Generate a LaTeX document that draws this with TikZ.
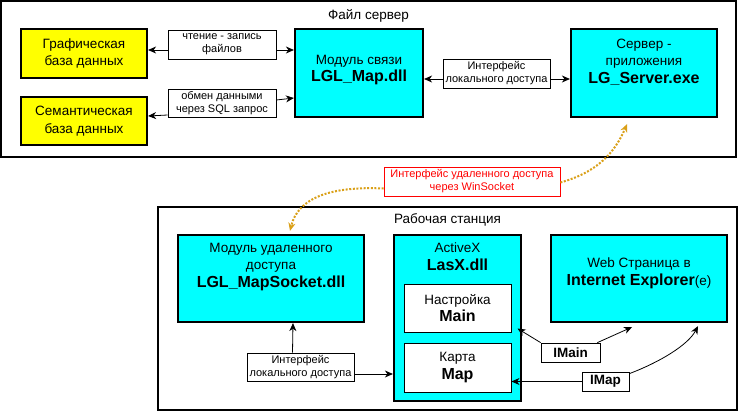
\documentclass[tikz,border=0pt]{standalone}
\usepackage{fontspec}
\setmainfont{Liberation Sans}
\usetikzlibrary{positioning, arrows.meta}
\definecolor{boxcyan}{RGB}{0,255,255}
\definecolor{boxyellow}{RGB}{255,255,0}
\definecolor{linkgold}{RGB}{218,160,24}
\newcommand{\bname}[1]{{\fontsize{16}{18}\selectfont\bfseries #1}}
\tikzset{
  frame/.style={draw, line width=1.3pt},
  title/.style={inner sep=0pt, font=\fontsize{13.5}{16}\selectfont},
  dbbox/.style={draw, line width=2.2pt, fill=boxyellow, align=center, font=\fontsize{13.5}{17.5}\selectfont},
  modbox/.style={draw, line width=2.2pt, fill=boxcyan},
  inbox/.style={draw, line width=1pt, fill=white, align=center, font=\fontsize{13.5}{17.5}\selectfont},
  boxtext/.style={inner sep=0pt, align=center, font=\fontsize{13.5}{17.5}\selectfont},
  lbl/.style={draw, line width=0.8pt, fill=white, align=center, inner sep=1pt, font=\fontsize{11}{13}\selectfont},
  ilbl/.style={lbl, font=\fontsize{13.5}{16}\selectfont\bfseries},
  link/.style={->, line width=0.8pt},
  remote/.style={->, draw=linkgold, line width=2pt, dash pattern=on 2pt off 1.6pt}
}
\begin{document}
\begin{tikzpicture}[x=1pt, y=-1pt, >={Stealth[length=8pt,width=7pt,inset=2.5pt]}]
\useasboundingbox (0,0) rectangle (739,412);

% file server
\node[frame, minimum width=735pt, minimum height=156pt] (srvFrame) at (368.5,79) {};
\node[title, below=9pt of srvFrame.north] (srvTitle) {Файл сервер};
\node[dbbox, minimum width=126pt, minimum height=49pt] (grDB) at (84,53.5) {Графическая\\база данных};
\node[dbbox, minimum width=126pt, minimum height=48pt] (semDB) at (84,121) {Семантическая\\база данных};
\node[lbl, minimum width=108pt, minimum height=29pt] (rwLbl) at (222,44.5) {чтение - запись\\файлов};
\node[lbl, minimum width=108pt, minimum height=28pt] (sqlLbl) at (222,103) {обмен данными\\через SQL запрос};
\node[modbox, minimum width=128pt, minimum height=88pt] (lglMap) at (359,73) {};
\node[boxtext] (lglMapT) at ([yshift=3pt]lglMap.center) {Модуль связи\\\bname{LGL\_Map.dll}};
\node[lbl, minimum width=107pt, minimum height=29pt] (loc1Lbl) at (496.5,73.5) {Интерфейс\\локального доступа};
\node[modbox, minimum width=146pt, minimum height=88pt] (srv) at (644,73) {};
\node[boxtext] (srvT) at ([yshift=11pt]srv.center) {Сервер -\\приложения\\\bname{LG\_Server.exe}};

\draw[link] ([yshift=-5.5pt]rwLbl.west) -- ([yshift=-5.5pt]rwLbl.west -| grDB.east);
\draw[link] ([yshift=-5.5pt]rwLbl.east) -- ([yshift=-5.5pt]rwLbl.east -| lglMap.west);
\draw[link] ([yshift=-12pt]sqlLbl.west) -- ([yshift=-13pt]sqlLbl.west -| semDB.east);
\draw[link] ([yshift=3pt]sqlLbl.east) -- ([yshift=5pt]sqlLbl.east -| lglMap.west);
\draw[link] ([yshift=-5.5pt]loc1Lbl.west) -- ([yshift=-5.5pt]loc1Lbl.west -| lglMap.east);
\draw[link] ([yshift=-5.5pt]loc1Lbl.east) -- ([yshift=-5.5pt]loc1Lbl.east -| srv.west);

% remote link
\node[lbl, draw=red, text=red, minimum width=176pt, minimum height=29pt] (remoteLbl) at (472,181.5) {Интерфейс удаленного доступа\\через WinSocket};

% workstation
\node[frame, minimum width=579pt, minimum height=203pt] (wsFrame) at (447.5,308.5) {};
\node[title, below=7pt of wsFrame.north] (wsTitle) {Рабочая станция};
\node[modbox, minimum width=186pt, minimum height=87pt] (sock) at (271,278.5) {};
\node[boxtext] (sockT) at ([yshift=11.5pt]sock.center) {Модуль удаленного\\доступа\\\bname{LGL\_MapSocket.dll}};
\node[modbox, minimum width=127pt, minimum height=166pt] (actx) at (457.5,318) {};
\node[boxtext, below=9pt of actx.north] (actxT) {ActiveX\\\bname{LasX.dll}};
\node[inbox, minimum width=107pt, minimum height=48pt] (setMain) at (457.5,308) {Настройка\\\bname{Main}};
\node[inbox, minimum width=107pt, minimum height=49pt] (mapBox) at (457.5,367.5) {Карта\\\bname{Map}};
\node[modbox, minimum width=176pt, minimum height=87pt] (web) at (639,278.5) {};
\node[boxtext] (webT) at ([yshift=5pt]web.center) {Web Страница в\\\bname{Internet Explorer}(e)};
\node[lbl, minimum width=107pt, minimum height=28pt] (loc2Lbl) at (300.5,367) {Интерфейс\\локального доступа};
\node[ilbl, minimum width=59pt, minimum height=19pt] (imain) at (570.5,352.5) {IMain};
\node[ilbl, minimum width=47pt, minimum height=19pt] (imap) at (605.5,381.5) {IMap};

\draw[link] ([xshift=-8pt]loc2Lbl.north) -- ([xshift=22pt]sock.south);
\draw[link] ([yshift=-7pt]loc2Lbl.east) -- ([yshift=-7pt]loc2Lbl.east -| actx.west);
\draw[link] (imain.north west) -- ([shift={(6pt,4pt)}]setMain.south east);
\draw[link] ([xshift=-3pt]imain.north east) -- ([shift={(-7pt,-4pt)}]web.south);
\draw[link] (imap.west) -- (imap.west -| mapBox.east);
\draw[link] ([yshift=-2pt]imap.north east) .. controls (660,362) and (688,345) .. ([shift={(59pt,-3pt)}]web.south);

\draw[remote] ([yshift=-1pt]remoteLbl.east) .. controls (598,172) and (615,152) .. ([shift={(-17pt,-6pt)}]srv.south);
\draw[remote] ([yshift=-7pt]remoteLbl.west) .. controls (330,186) and (298,198) .. ([xshift=19pt,yshift=3pt]sock.north);
\end{tikzpicture}
\end{document}
